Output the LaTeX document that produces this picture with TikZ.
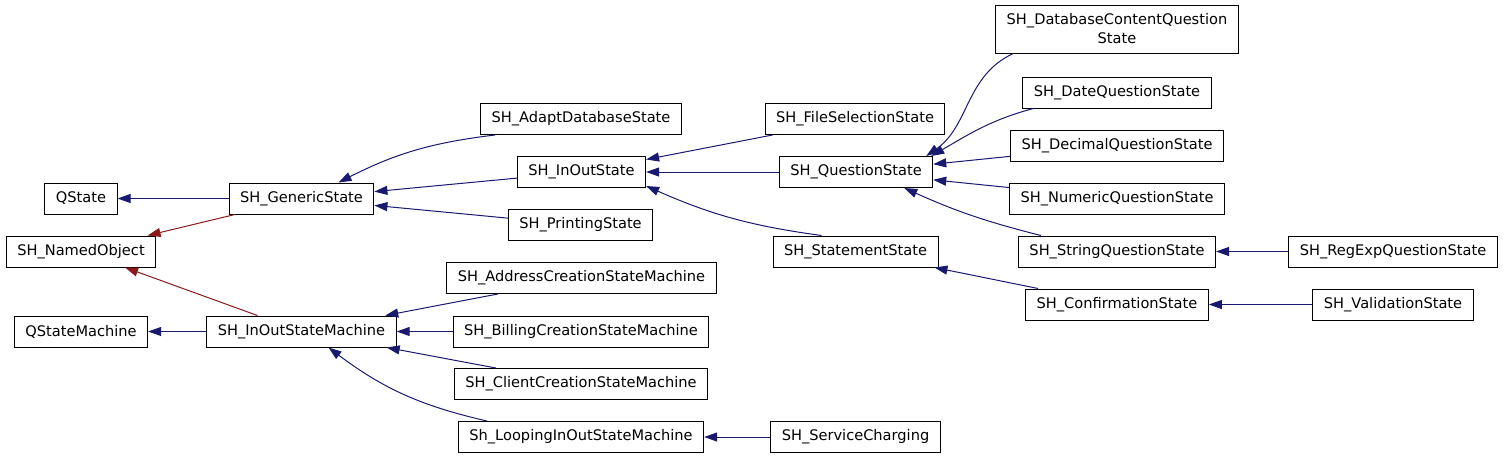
\documentclass[tikz,border=0pt]{standalone}
\usepackage{fontspec}
\setmainfont{DejaVu Sans}
\usetikzlibrary{arrows.meta}

\definecolor{edgeblue}{RGB}{25,25,112}
\definecolor{edgered}{RGB}{139,26,26}

\begin{document}
\begin{tikzpicture}[
    x=1pt, y=1pt,
    >={Triangle[length=13pt, width=9pt]},
    % Styles
    cls/.style={rectangle, draw=black, line width=1pt,
      minimum height=31pt, inner xsep=11pt, inner ysep=2pt,
      font=\fontsize{14.6}{19}\selectfont},
    inh/.style={<-, color=edgeblue, line width=1pt},
    privinh/.style={<-, color=edgered, line width=1pt}
  ]
  \useasboundingbox (0,0) rectangle (1504,-459);
  % 1. Root classes
  \node[cls] (qstate) at (81,-198.5) {QState};
  \node[cls] (named) at (81,-251.5) {SH\_NamedObject};
  \node[cls] (qsm) at (81,-331.5) {QStateMachine};
  % 2. Generic bases
  \node[cls] (gen) at (301.5,-198.5) {SH\_GenericState};
  \node[cls] (iosm) at (301.5,-331.5) {SH\_InOutStateMachine};
  % 3. Third column
  \node[cls] (adapt) at (581,-119) {SH\_AdaptDatabaseState};
  \node[cls] (io) at (581.5,-172) {SH\_InOutState};
  \node[cls] (print) at (580.5,-225) {SH\_PrintingState};
  \node[cls] (addr) at (581.5,-278) {SH\_AddressCreationStateMachine};
  \node[cls] (bill) at (581,-331.5) {SH\_BillingCreationStateMachine};
  \node[cls] (client) at (581,-384) {SH\_ClientCreationStateMachine};
  \node[cls] (loop) at (581,-437) {Sh\_LoopingInOutStateMachine};
  % 4. Fourth column
  \node[cls] (filesel) at (855,-119) {SH\_FileSelectionState};
  \node[cls] (quest) at (856,-172) {SH\_QuestionState};
  \node[cls] (stmt) at (855.5,-251.5) {SH\_StatementState};
  \node[cls] (service) at (855.5,-437) {SH\_ServiceCharging};
  % 5. Question states
  \node[cls, minimum height=48pt, align=center] (dbc) at (1117,-29)
    {SH\_DatabaseContentQuestion\\State};
  \node[cls] (date) at (1117,-92.5) {SH\_DateQuestionState};
  \node[cls] (decimal) at (1117,-145.5) {SH\_DecimalQuestionState};
  \node[cls] (numeric) at (1117,-198.5) {SH\_NumericQuestionState};
  \node[cls] (string) at (1117,-251.5) {SH\_StringQuestionState};
  \node[cls] (confirm) at (1117,-304.5) {SH\_ConfirmationState};
  % 6. Leaves
  \node[cls] (regexp) at (1393,-251.5) {SH\_RegExpQuestionState};
  \node[cls] (valid) at (1393,-304.5) {SH\_ValidationState};
  % --- Connections ---
  \foreach \p/\c in {qstate/gen, qsm/iosm, gen/io, gen/print, io/filesel,
      io/quest, iosm/addr, iosm/bill, iosm/client, loop/service,
      quest/decimal, quest/numeric, stmt/confirm, string/regexp, confirm/valid} {
    \draw[inh] (\p) -- (\c);
  }
  \foreach \c in {gen, iosm} {
    \draw[privinh] (named) -- (\c);
  }
  % Curved ones
  \draw[inh] ([xshift=37pt]gen.north) to[bend left=10] ([xshift=-86pt]adapt.south);
  \draw[inh] ([yshift=2pt]io.south east) to[bend right=8] ([xshift=-34pt]stmt.north);
  \draw[inh] ([xshift=-29pt]quest.south east) to[bend right=5] ([xshift=23pt]string.north west);
  \draw[inh] ([xshift=-7pt]quest.north east) to[out=35, in=205] ([xshift=18pt]dbc.south west);
  \draw[inh] ([xshift=-2pt]quest.north east) to[out=30, in=195] ([xshift=11pt]date.south west);
  \draw[inh] ([xshift=27pt]iosm.south) to[bend right=12] ([xshift=-94pt]loop.north);
\end{tikzpicture}
\end{document}
